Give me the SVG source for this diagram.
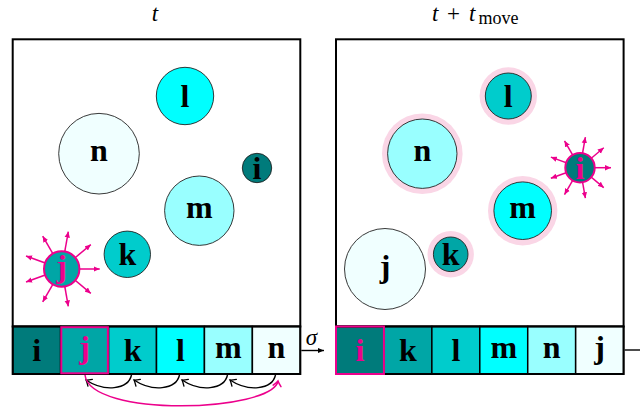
<svg xmlns="http://www.w3.org/2000/svg" width="640" height="410" viewBox="0 0 640 410">
<defs>
<style>
.panel{fill:#fff;stroke:#000;stroke-width:2}
.cell{stroke:#000;stroke-width:1.5}
.arr{fill:none;stroke:#000;stroke-width:2}
.sel{fill:none;stroke:#EC008C;stroke-width:2}
.c{stroke:#222;stroke-width:0.9}
.halo{fill:#FAD6E6;stroke:none}
.lbl{font-family:"Liberation Serif","Times New Roman",serif;font-weight:bold;font-size:32px;text-anchor:middle;fill:#000}
.pk{fill:#EC008C}
.math{font-family:"Liberation Serif","Times New Roman",serif;font-style:italic;font-size:23px;fill:#000}
.up{font-style:normal}
.ray{stroke:#EC008C;stroke-width:1.5;marker-end:url(#tipP)}
.conn{fill:none;stroke:#000;stroke-width:1.4}
.teal0{fill:#007B7B}.teal1{fill:#00A6A6}.teal2{fill:#00CCCC}.teal3{fill:#00FFFF}.teal4{fill:#99FFFF}.teal5{fill:#F0FFFF}
</style>
<marker id="tipP" viewBox="0 0 6 6" refX="6" refY="3" markerWidth="6" markerHeight="6" markerUnits="userSpaceOnUse" orient="auto">
<path d="M0,0.3 L6,3 L0,5.7 z" fill="#EC008C"/>
</marker>
<marker id="tipK" viewBox="0 0 6 6" refX="6" refY="3" markerWidth="6" markerHeight="6" markerUnits="userSpaceOnUse" orient="auto">
<path d="M0,0.5 L6,3 L0,5.5 z" fill="#000"/>
</marker>
<marker id="toK" viewBox="-6 -5 7 10" refX="0" refY="0" markerWidth="7" markerHeight="10" markerUnits="userSpaceOnUse" orient="auto" overflow="visible">
<path d="M-5,-4 Q-1.5,-0.8 0,0 Q-1.5,0.8 -5,4" fill="none" stroke="#000" stroke-width="1.3" stroke-linecap="round"/>
</marker>
<marker id="toP" viewBox="-6 -5 7 10" refX="0" refY="0" markerWidth="7" markerHeight="10" markerUnits="userSpaceOnUse" orient="auto" overflow="visible">
<path d="M-5,-4 Q-1.5,-0.8 0,0 Q-1.5,0.8 -5,4" fill="none" stroke="#EC008C" stroke-width="1.5" stroke-linecap="round"/>
</marker>
</defs>
<rect width="640" height="410" fill="#fff"/>

<!-- titles -->
<text class="math" x="155" y="20.5" text-anchor="middle">t</text>
<text class="math" y="20.5"><tspan x="432">t</tspan><tspan class="up" x="447">+</tspan><tspan x="469">t</tspan><tspan class="up" x="478.5" dy="3" font-size="18">move</tspan></text>

<!-- left panel -->
<g id="panel-left">
<rect class="panel" x="12.7" y="39.3" width="287.6" height="287.2"/>
</g>
<g id="array-left">
<rect class="cell teal0" x="12.7" y="326.5" width="47.93" height="47.5"/>
<rect class="cell teal1" x="60.63" y="326.5" width="47.93" height="47.5"/>
<rect class="cell teal2" x="108.57" y="326.5" width="47.93" height="47.5"/>
<rect class="cell teal3" x="156.5" y="326.5" width="47.93" height="47.5"/>
<rect class="cell teal4" x="204.43" y="326.5" width="47.93" height="47.5"/>
<rect class="cell teal5" x="252.37" y="326.5" width="47.93" height="47.5"/>
<rect class="arr" x="12.7" y="326.5" width="287.6" height="47.5"/>
<rect class="sel" x="61.3" y="327.2" width="46.6" height="46.1"/>
<text class="lbl" x="36.67" y="361">i</text>
<text class="lbl pk" x="84.6" y="357.7">j</text>
<text class="lbl" x="132.53" y="361">k</text>
<text class="lbl" x="180.47" y="361">l</text>
<text class="lbl" x="228.4" y="357.5">m</text>
<text class="lbl" x="276.33" y="357.5">n</text>
</g>

<g id="L-l"><circle class="c teal3" cx="185" cy="96" r="28.7"/><text class="lbl" x="185" y="106.8">l</text></g>
<g id="L-n"><circle class="c teal5" cx="99" cy="153.7" r="40.3"/><text class="lbl" x="99" y="161">n</text></g>
<g id="L-i"><circle class="c teal0" cx="257" cy="168" r="14.7"/><text class="lbl" x="257" y="178.8">i</text></g>
<g id="L-m"><circle class="c teal4" cx="199.3" cy="210.7" r="34.7"/><text class="lbl" x="199.3" y="218">m</text></g>
<g id="L-k"><circle class="c teal2" cx="127.3" cy="254.3" r="23.2"/><text class="lbl" x="127.3" y="265.1">k</text></g>
<g id="L-j">
<g transform="translate(61.7,269)">
<line class="ray" x1="0" y1="0" x2="38" y2="0"/>
<line class="ray" x1="0" y1="0" x2="38" y2="0" transform="rotate(40)"/>
<line class="ray" x1="0" y1="0" x2="38" y2="0" transform="rotate(80)"/>
<line class="ray" x1="0" y1="0" x2="38" y2="0" transform="rotate(120)"/>
<line class="ray" x1="0" y1="0" x2="38" y2="0" transform="rotate(160)"/>
<line class="ray" x1="0" y1="0" x2="38" y2="0" transform="rotate(200)"/>
<line class="ray" x1="0" y1="0" x2="38" y2="0" transform="rotate(240)"/>
<line class="ray" x1="0" y1="0" x2="38" y2="0" transform="rotate(280)"/>
<line class="ray" x1="0" y1="0" x2="38" y2="0" transform="rotate(320)"/>
</g>
<circle class="teal1" cx="61.7" cy="269" r="17.7" stroke="#EC008C" stroke-width="2"/>
<text class="lbl pk" x="61.7" y="276.5">j</text>
</g>

<!-- right panel -->
<g id="panel-right">
<rect class="panel" x="336" y="39.3" width="287.6" height="287.2"/>
</g>
<g id="array-right">
<rect class="cell teal0" x="336" y="326.5" width="47.93" height="47.5"/>
<rect class="cell teal1" x="383.93" y="326.5" width="47.93" height="47.5"/>
<rect class="cell teal2" x="431.87" y="326.5" width="47.93" height="47.5"/>
<rect class="cell teal3" x="479.8" y="326.5" width="47.93" height="47.5"/>
<rect class="cell teal4" x="527.73" y="326.5" width="47.93" height="47.5"/>
<rect class="cell teal5" x="575.67" y="326.5" width="47.93" height="47.5"/>
<rect class="arr" x="336" y="326.5" width="287.6" height="47.5"/>
<rect class="sel" x="336" y="326.5" width="47.93" height="47.5"/>
<text class="lbl pk" x="359.97" y="361">i</text>
<text class="lbl" x="407.9" y="361">k</text>
<text class="lbl" x="455.83" y="361">l</text>
<text class="lbl" x="503.77" y="357.5">m</text>
<text class="lbl" x="551.7" y="357.5">n</text>
<text class="lbl" x="599.63" y="357.7">j</text>
</g>

<g id="R-l"><circle class="halo" cx="508.3" cy="96" r="28.7"/><circle class="c teal2" cx="508.3" cy="96" r="23"/><text class="lbl" x="508.3" y="106.8">l</text></g>
<g id="R-n"><circle class="halo" cx="422.3" cy="153.7" r="40.3"/><circle class="c teal4" cx="422.3" cy="153.7" r="34.7"/><text class="lbl" x="422.3" y="161">n</text></g>
<g id="R-m"><circle class="halo" cx="522.7" cy="210.7" r="34.7"/><circle class="c teal3" cx="522.7" cy="210.7" r="28.8"/><text class="lbl" x="522.7" y="218">m</text></g>
<g id="R-k"><circle class="halo" cx="450.7" cy="254.3" r="23.2"/><circle class="c teal1" cx="450.7" cy="254.3" r="17.3"/><text class="lbl" x="450.7" y="265.1">k</text></g>
<g id="R-j"><circle class="c teal5" cx="385" cy="269" r="40.5"/><text class="lbl" x="385" y="276.5">j</text></g>
<g id="R-i">
<g transform="translate(580,167.7)">
<line class="ray" x1="0" y1="0" x2="31" y2="0"/>
<line class="ray" x1="0" y1="0" x2="31" y2="0" transform="rotate(40)"/>
<line class="ray" x1="0" y1="0" x2="31" y2="0" transform="rotate(80)"/>
<line class="ray" x1="0" y1="0" x2="31" y2="0" transform="rotate(120)"/>
<line class="ray" x1="0" y1="0" x2="31" y2="0" transform="rotate(160)"/>
<line class="ray" x1="0" y1="0" x2="31" y2="0" transform="rotate(200)"/>
<line class="ray" x1="0" y1="0" x2="31" y2="0" transform="rotate(240)"/>
<line class="ray" x1="0" y1="0" x2="31" y2="0" transform="rotate(280)"/>
<line class="ray" x1="0" y1="0" x2="31" y2="0" transform="rotate(320)"/>
</g>
<circle class="teal0" cx="580" cy="167.7" r="14.7" stroke="#EC008C" stroke-width="2"/>
<text class="lbl pk" x="580" y="178.5">i</text>
</g>

<!-- connectors -->
<g id="connectors">
<line x1="301.3" y1="350.5" x2="324" y2="350.5" stroke="#000" stroke-width="1.4" marker-end="url(#tipK)"/>
<text class="math" x="311.5" y="345" text-anchor="middle">σ</text>
<line x1="624.6" y1="350" x2="640" y2="350" stroke="#000" stroke-width="1.4"/>
<path class="conn" d="M275.5,375 C272,390 248,392 230,380" marker-end="url(#toK)"/>
<path class="conn" d="M227.5,375 C224,390 200,392 182,380" marker-end="url(#toK)"/>
<path class="conn" d="M179.5,375 C176,390 152,392 134,380" marker-end="url(#toK)"/>
<path class="conn" d="M131.5,375 C128,390 104,392 86,380" marker-end="url(#toK)"/>
<path d="M85,375 C90,418 272,412 278,381" fill="none" stroke="#EC008C" stroke-width="1.5" marker-end="url(#toP)"/>
</g>
</svg>
